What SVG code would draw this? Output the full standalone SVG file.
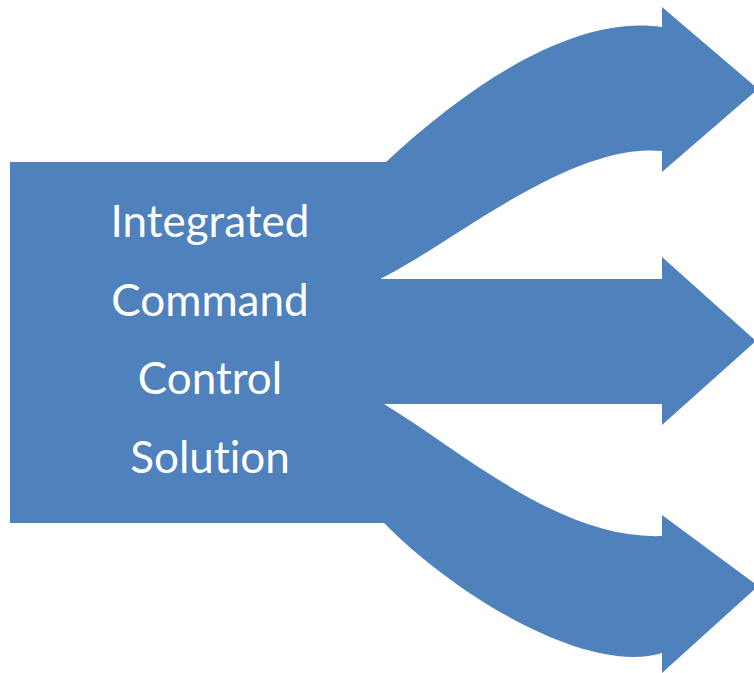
<svg xmlns="http://www.w3.org/2000/svg" width="754" height="673" viewBox="0 0 754 673">
  <style>
    .shape { fill: #4F81BD; stroke: none; }
    .label { fill: #FFFFFF; font-family: Lato, "Open Sans", "Liberation Sans", sans-serif; font-size: 44px; text-anchor: middle; font-variant-ligatures: none; }
  </style>
  <rect width="754" height="673" fill="#FFFFFF"/>

  <!-- central block -->
  <g id="node-solution">
    <rect class="shape" x="10" y="162" width="371" height="361"/>
    <text class="label" x="210" y="237">Integrated</text>
    <text class="label" x="210" y="316">Command</text>
    <text class="label" x="210" y="394">Control</text>
    <text class="label" x="210" y="473">Solution</text>
  </g>

  <!-- three outgoing arrows -->
  <g id="connectors">
    <path id="arrow-up" class="shape" d="M370,162 L386,162 C480,75 580,15 662,27 L662,7 L758,89 L662,172 L662,151 C570,142 450,245 380,279 L370,279 Z"/>
    <path id="arrow-straight" class="shape" d="M370,279 L662,279 L662,257 L756,341 L662,425 L662,404 L370,404 Z"/>
    <path id="arrow-down" class="shape" d="M370,404 L384,404 C460,450 560,540 662,536 L662,515 L758,586 L662,673 L662,653 C590,675 460,600 384,523 L370,523 Z"/>
  </g>
</svg>
